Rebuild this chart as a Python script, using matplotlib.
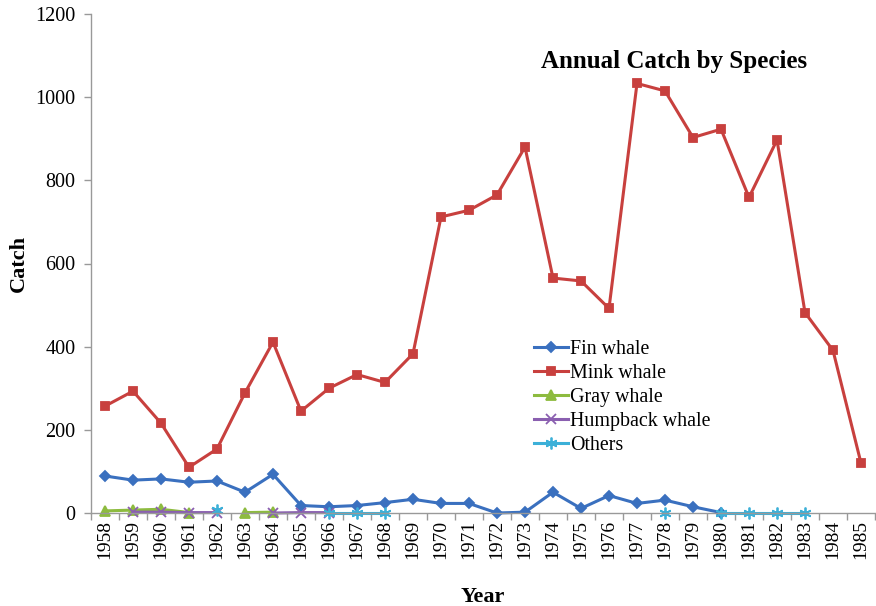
import numpy as np
import matplotlib
matplotlib.use("Agg")
import matplotlib.pyplot as plt

nan = np.nan
years = list(range(1958, 1986))

fin_whale = [89, 79, 82, 74, 77, 50, 93, 18, 15, 18, 25, 33, 23, 23, 0, 2,
             50, 11, 42, 23, 31, 15, 1, nan, nan, nan, nan, nan]
mink_whale = [257, 293, 216, 110, 154, 289, 411, 245, 300, 333, 314, 383, 712, 728,
              765, 880, 565, 558, 492, 1033, 1015, 903, 923, 759, 897, 482, 391, 120]
gray_whale = [5, 7, 9, 1, nan, 1, 2] + [nan] * 21
humpback_whale = [nan, 2, 2, 1, 1, nan, 0, 1, 1] + [nan] * 19
others = [nan, nan, nan, nan, 8, nan, nan, nan, 0, 0, 0, nan, nan, nan, nan, nan,
          nan, nan, nan, nan, 0, nan, 0, 0, 0, 0, nan, nan]

series = [
    ("Fin whale", fin_whale, "#3A70BF", "D", 5),
    ("Mink whale", mink_whale, "#C8403E", "s", 6),
    ("Gray whale", gray_whale, "#8DBB3F", "^", 6.5),
    ("Humpback whale", humpback_whale, "#8A5FB0", "x", 6.5),
    ("Others", others, "#3CB0D8", (6, 2, 0), 8.5),
]

serif = ["Liberation Serif", "DejaVu Serif"]
plt.rcParams["font.family"] = serif

fig = plt.figure(figsize=(8.76, 6.06), dpi=100)
ax = fig.add_axes([91 / 876, 1 - 513 / 606, (875 - 91) / 876, (513 - 14) / 606])

x = np.arange(len(years))
for name, vals, color, marker, ms in series:
    ax.plot(x, vals, color=color, lw=2.2, marker=marker, markersize=ms,
            markeredgecolor=color, markerfacecolor=color, markeredgewidth=1.3,
            label=name, clip_on=False)

ax.set_xlim(-0.5, len(years) - 0.5)
ax.set_ylim(0, 1200)
ax.set_yticks(range(0, 1201, 200))
ax.set_xticks(x)
ax.set_xticklabels([str(y) for y in years], rotation=90, fontsize=14)
ax.set_xticks(np.arange(-0.5, len(years), 1.0), minor=True)
ax.tick_params(axis="x", which="major", length=0, pad=5)
ax.tick_params(axis="x", which="minor", length=5, color="#999999", width=1)
ax.tick_params(axis="y", length=5, color="#999999", width=1, labelsize=14.5, pad=6)

for side in ("top", "right"):
    ax.spines[side].set_visible(False)
for side in ("left", "bottom"):
    ax.spines[side].set_color("#999999")
    ax.spines[side].set_linewidth(1)

ax.set_xlabel("Year", fontsize=16, fontweight="bold", labelpad=20)
ax.set_ylabel("Catch", fontsize=16, fontweight="bold", labelpad=5)

ax.text(0.744, 0.905, "Annual Catch by Species", transform=ax.transAxes,
        ha="center", va="center", fontsize=18, fontweight="bold")

leg = ax.legend(loc="upper left", bbox_to_anchor=(0.555, 0.362), frameon=False,
                fontsize=14.4, handlelength=1.7, handletextpad=0.1,
                labelspacing=0.25, borderaxespad=0)

fig.savefig("out.png", dpi=100)
